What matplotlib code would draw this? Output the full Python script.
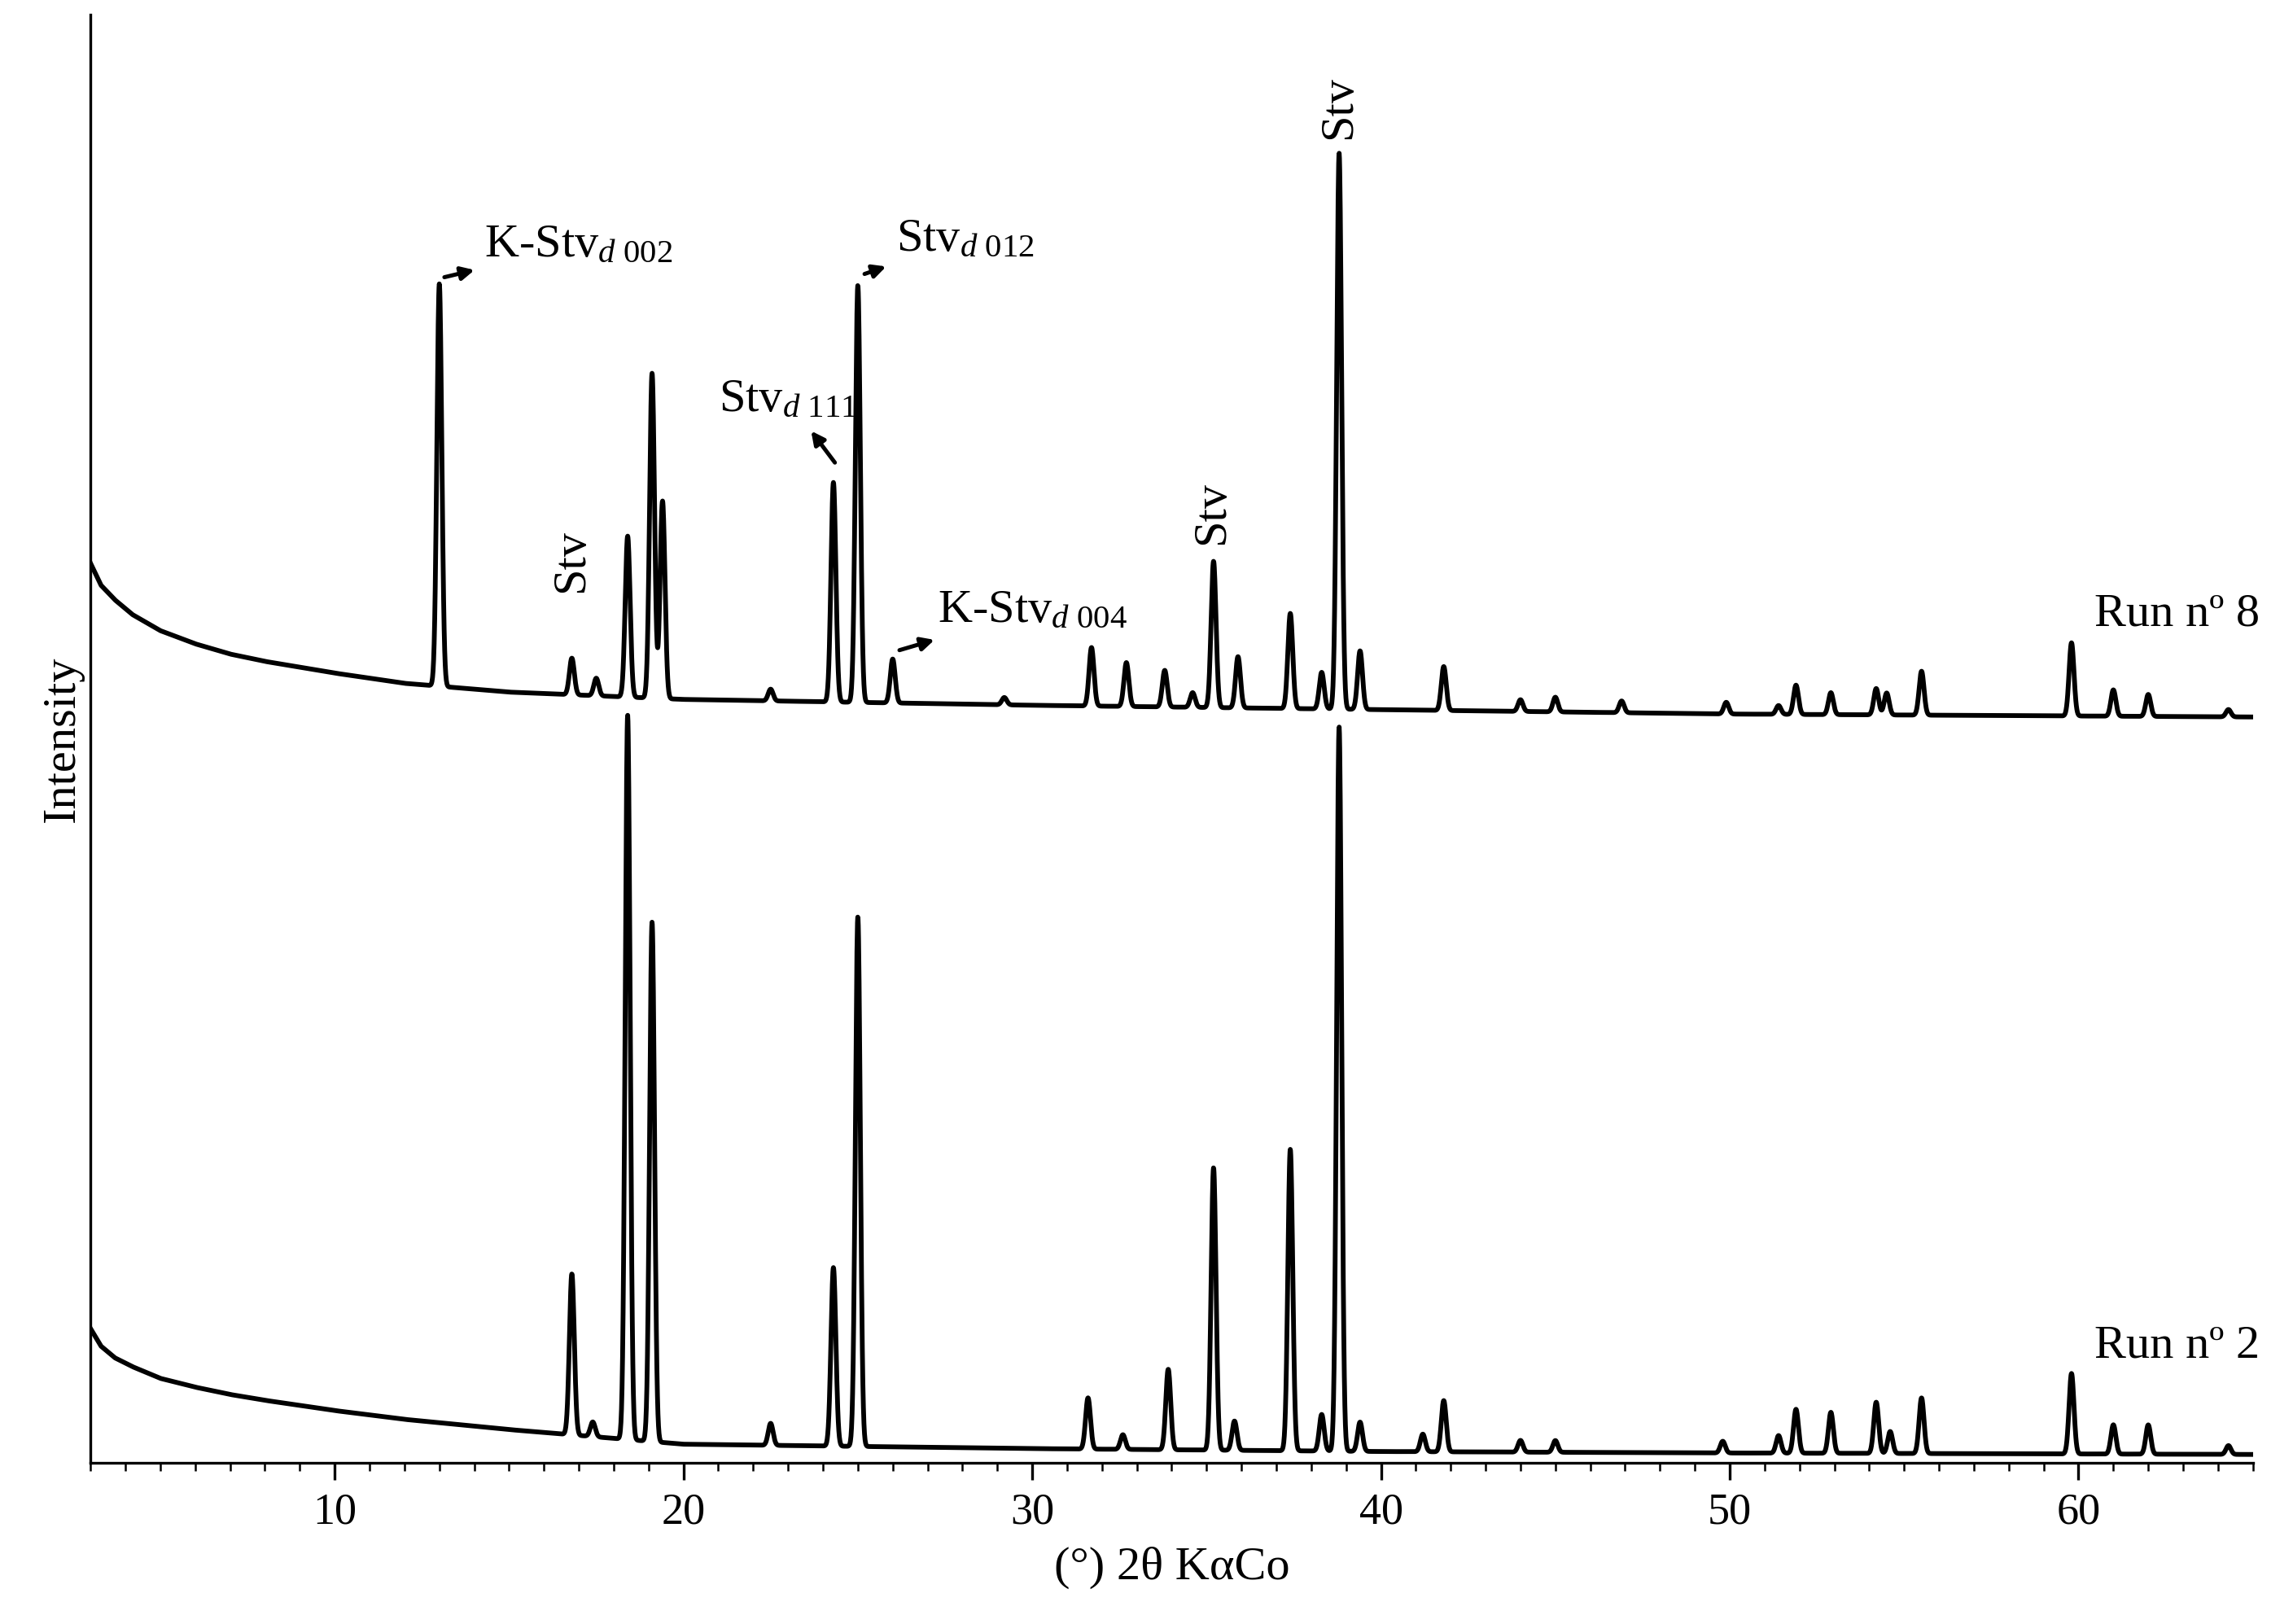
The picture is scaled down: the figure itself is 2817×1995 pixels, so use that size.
import numpy as np
import matplotlib.pyplot as plt

plt.rcParams['font.family'] = ['Liberation Serif', 'DejaVu Serif']
plt.rcParams['mathtext.fontset'] = 'custom'
plt.rcParams['mathtext.rm'] = 'Liberation Serif'
plt.rcParams['mathtext.it'] = 'Liberation Serif:italic'

# baseline anchors (2theta, intensity)
base8_x = [3, 3.3, 3.7, 4.2, 5, 6, 7, 8, 10, 12, 15, 20, 30, 40, 50, 65]
base8_y = [615, 600, 590, 580, 569, 560, 553, 548, 540, 533, 527, 522, 518, 515, 512, 510]
base2_x = [3, 3.3, 3.7, 4.2, 5, 6, 7, 8, 10, 12, 15, 20, 30, 40, 50, 65]
base2_y = [92, 80, 72, 66, 58, 52, 47, 43, 36, 30, 23, 13, 10, 8, 7, 6]

# peaks: position, height above baseline
peaks8_pos = [13.0, 16.8, 17.5, 18.4, 19.1, 19.4, 22.5, 24.3, 25.0, 26.0, 29.2, 31.7,
              32.7, 33.8, 34.6, 35.2, 35.9, 37.4, 38.3, 38.8, 39.4, 41.8, 44.0, 45.0,
              46.9, 49.9, 51.4, 51.9, 52.9, 54.2, 54.5, 55.5, 59.8, 61.0, 62.0, 64.3]
peaks8_h = [275, 25, 12, 110, 222, 135, 8, 150, 285, 30, 5, 40,
            30, 25, 10, 100, 35, 65, 25, 380, 40, 30, 8, 10,
            8, 8, 6, 20, 15, 18, 15, 30, 50, 18, 15, 5]
peaks2_pos = [16.8, 17.4, 18.4, 19.1, 22.5, 24.3, 25.0, 31.6, 32.6, 33.9, 35.2, 35.8,
              37.4, 38.3, 38.8, 39.4, 41.2, 41.8, 44.0, 45.0, 49.8, 51.4, 51.9, 52.9,
              54.2, 54.6, 55.5, 59.8, 61.0, 62.0, 64.3]
peaks2_h = [110, 10, 495, 355, 15, 122, 362, 35, 10, 55, 193, 20,
            206, 25, 495, 20, 12, 35, 8, 8, 8, 12, 30, 28,
            35, 15, 38, 55, 20, 20, 6]

x = np.linspace(3, 65, 8000)


def pattern(bx, by, pos, h, w=0.07):
    y = np.interp(x, bx, by)
    for p, a in zip(pos, h):
        y = y + a * np.exp(-0.5 * ((x - p) / w) ** 2)
    return y


y8 = pattern(base8_x, base8_y, peaks8_pos, peaks8_h)
y2 = pattern(base2_x, base2_y, peaks2_pos, peaks2_h)

fig = plt.figure(figsize=(9.39, 6.65), dpi=300)
ax = fig.add_axes([0.0395, 0.099, 0.943, 0.892])
ax.plot(x, y8, color='black', lw=1.4)
ax.plot(x, y2, color='black', lw=1.4)
ax.set_xlim(3, 65)
ax.set_ylim(0, 990)
ax.set_yticks([])
ax.set_xticks([10, 20, 30, 40, 50, 60])
ax.set_xticks(np.arange(3, 66, 1), minor=True)
ax.tick_params(axis='x', labelsize=13, direction='out', length=5)
ax.tick_params(axis='x', which='minor', length=2.5)
ax.spines['top'].set_visible(False)
ax.spines['right'].set_visible(False)
ax.set_xlabel('(°) 2θ KαCo', fontsize=14, labelpad=4)
ax.set_ylabel('Intensity', fontsize=14, labelpad=2)

fs = 14
arr = dict(arrowstyle='<|-', color='black', lw=1.2, mutation_scale=8,
           shrinkA=1, shrinkB=1)
ax.annotate('K-Stv$_{\\mathit{d\\ 002}}$', xy=(13.05, 810), xytext=(14.3, 818),
            fontsize=fs, arrowprops=arr, va='bottom')
ax.annotate('Stv$_{\\mathit{d\\ 012}}$', xy=(25.1, 812), xytext=(26.1, 822),
            fontsize=fs, arrowprops=arr, va='bottom')
ax.annotate('Stv$_{\\mathit{d\\ 111}}$', xy=(24.4, 682), xytext=(23.0, 712),
            fontsize=fs, arrowprops=arr, va='bottom', ha='center')
ax.annotate('K-Stv$_{\\mathit{d\\ 004}}$', xy=(26.1, 555), xytext=(27.3, 568),
            fontsize=fs, arrowprops=arr, va='bottom')
ax.text(16.8, 595, 'Stv', rotation=90, fontsize=fs, ha='center', va='bottom')
ax.text(35.15, 628, 'Stv', rotation=90, fontsize=fs, ha='center', va='bottom')
ax.text(38.8, 905, 'Stv', rotation=90, fontsize=fs, ha='center', va='bottom')
ax.text(65.2, 580, 'Run nº 8', fontsize=fs, ha='right', va='center')
ax.text(65.2, 80, 'Run nº 2', fontsize=fs, ha='right', va='center')

fig.savefig('out.png', dpi=300)
